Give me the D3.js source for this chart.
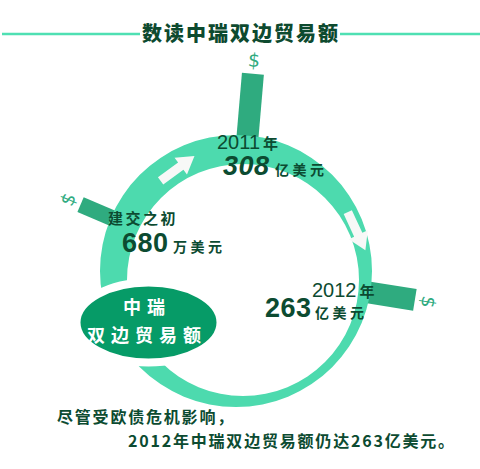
<!DOCTYPE html>
<html>
<head>
<meta charset="utf-8">
<script src="https://cdn.jsdelivr.net/npm/d3@7"></script>
<style>
  body { margin: 0; background: #fff; }
  svg { display: block; }
</style>
</head>
<body>
<div id="chart"></div>
<script>
// dados: comércio bilateral China-Suíça (亿美元)
const periods = ["建交之初", "2011年", "2012年"];
const values = [0.068, 308, 263];          // 680万美元 = 0.068亿美元
const valueLabels = ["680", "308", "263"];
const units = ["万美元", "亿美元", "亿美元"];
const title = "数读中瑞双边贸易额";
const centerLines = ["中瑞", "双边贸易额"];
const noteLines = ["尽管受欧债危机影响，", "2012年中瑞双边贸易额仍达263亿美元。"];

const W = 480, H = 469;
const cjk = "'Noto Sans CJK SC', sans-serif";
const latin = "'Liberation Sans', Arial, sans-serif";
const narrow = "'Liberation Sans Narrow', 'Liberation Sans', Arial, sans-serif";
const dark = "#0c4b31";
const ringCol = "#4ddaae", barCol = "#2fab7f", ellCol = "#069b67";

// geometria do anel
const ring = {cx: 236, cy: 271, r: 136, icx: 243, icy: 280, ir: 116};
const barAngle = [203.1, -85.1, 9.2];     // graus, sentido da tela
const barWidth = [16, 22, 22];
const barBase = 125;

const svg = d3.select("#chart").append("svg")
  .attr("width", W).attr("height", H);

// título com linhas
svg.append("line").attr("x1", 2).attr("x2", 140).attr("y1", 34).attr("y2", 34)
  .attr("stroke", "#4fe0b3").attr("stroke-width", 2.5);
svg.append("line").attr("x1", 340).attr("x2", 480).attr("y1", 34).attr("y2", 34)
  .attr("stroke", "#4fe0b3").attr("stroke-width", 2.5);
svg.append("text")
  .attr("x", 241).attr("y", 41)
  .attr("text-anchor", "middle")
  .style("font-family", cjk).style("font-weight", 900)
  .style("font-size", "20px").style("letter-spacing", "2px")
  .attr("fill", "#0d4a2f")
  .text(title);

// comprimento visível das barras
const len = d3.scalePow().exponent(2)
  .domain([0, d3.max(values)])
  .range([0, 62]);
const visible = v => Math.max(33, len(v));

const bars = svg.append("g")
  .attr("transform", `translate(${ring.cx},${ring.cy})`);

bars.selectAll("rect")
  .data(values)
  .join("rect")
    .attr("transform", (d, i) => `rotate(${barAngle[i]})`)
    .attr("x", barBase)
    .attr("y", (d, i) => -barWidth[i] / 2)
    .attr("width", d => ring.r + visible(d) - barBase)
    .attr("height", (d, i) => barWidth[i])
    .attr("fill", barCol);

// cifrões na ponta das barras
bars.selectAll("text")
  .data(values)
  .join("text")
    .attr("transform", (d, i) => {
      const r = ring.r + visible(d) + 14;
      const a = barAngle[i] * Math.PI / 180;
      return `translate(${r * Math.cos(a)},${r * Math.sin(a)}) rotate(${barAngle[i] + 90})`;
    })
    .attr("text-anchor", "middle")
    .attr("dominant-baseline", "central")
    .style("font-family", "'DejaVu Sans', sans-serif")
    .style("font-size", "19px")
    .attr("fill", barCol)
    .text("$");

// anel (coroa irregular)
const p = d3.path();
p.moveTo(ring.cx + ring.r, ring.cy);
p.arc(ring.cx, ring.cy, ring.r, 0, 2 * Math.PI);
p.moveTo(ring.icx + ring.ir, ring.icy);
p.arc(ring.icx, ring.icy, ring.ir, 0, 2 * Math.PI);
svg.append("path")
  .attr("d", p.toString())
  .attr("fill", ringCol)
  .attr("fill-rule", "evenodd");

// setas brancas sobre o anel
const arrows = [{a: -119.7, r: 118}, {a: -18.3, r: 127}];
svg.selectAll(".arrow")
  .data(arrows)
  .join("path")
    .attr("class", "arrow")
    .attr("transform", d => {
      const a = d.a * Math.PI / 180;
      return `translate(${ring.cx + d.r * Math.cos(a)},${ring.cy + d.r * Math.sin(a)}) rotate(${d.a + 90 - 6.5})`;
    })
    .attr("d", "M-21,-4.5L4,-4.5L4,-10.5L21,0L4,10.5L4,4.5L-21,4.5Z")
    .attr("fill", "#f7f8f7");

// elipse central
svg.append("ellipse")
  .attr("cx", 148.5).attr("cy", 322.5)
  .attr("rx", 72).attr("ry", 40)
  .attr("fill", ellCol)
  .attr("stroke", "#fff").attr("stroke-width", 8);

svg.selectAll(".center")
  .data(centerLines)
  .join("text")
    .attr("class", "center")
    .attr("x", 147)
    .attr("y", (d, i) => 314 + i * 28)
    .attr("text-anchor", "middle")
    .style("font-family", cjk).style("font-weight", 700)
    .style("font-size", "18px").style("letter-spacing", "6px")
    .attr("fill", "#fff")
    .text(d => d);

// rótulos das barras
const lab = [
  {px: 108, py: 224, vx: 122, vy: 252, ux: 173, uy: 252, italic: false},
  {px: 217, py: 149, vx: 223, vy: 175, ux: 275, uy: 175, italic: true},
  {px: 312, py: 297, vx: 265, vy: 317, ux: 315, uy: 318, italic: false}
];

periods.forEach((p, i) => {
  const L = lab[i];
  const t = svg.append("text").attr("x", L.px).attr("y", L.py).attr("fill", dark);
  const m = p.match(/^(\d+)(.*)$/);
  if (m) {
    t.append("tspan").style("font-family", narrow).style("font-size", "20px").text(m[1]);
    t.append("tspan").attr("dx", 3).style("font-family", cjk).style("font-weight", 700)
      .style("font-size", "15px").text(m[2]);
  } else {
    t.style("font-family", cjk).style("font-weight", 700)
      .style("font-size", "15px").style("letter-spacing", "2.5px").text(p);
  }
  svg.append("text")
    .attr("x", L.vx).attr("y", L.vy)
    .style("font-family", latin).style("font-weight", 700)
    .style("font-style", L.italic ? "italic" : "normal")
    .style("font-size", "27px").style("letter-spacing", "0.5px")
    .attr("fill", dark)
    .text(valueLabels[i]);
  svg.append("text")
    .attr("x", L.ux).attr("y", L.uy)
    .style("font-family", cjk).style("font-weight", 700)
    .style("font-size", "14px").style("letter-spacing", "3.5px")
    .attr("fill", dark)
    .text(units[i]);
});

// nota de rodapé
svg.selectAll(".note")
  .data(noteLines)
  .join("text")
    .attr("class", "note")
    .attr("x", (d, i) => i ? 128 : 57)
    .attr("y", (d, i) => i ? 447 : 423)
    .style("font-family", cjk).style("font-weight", 700)
    .style("font-size", "16px").style("letter-spacing", "1.8px")
    .attr("fill", dark)
    .text(d => d);
</script>
</body>
</html>
